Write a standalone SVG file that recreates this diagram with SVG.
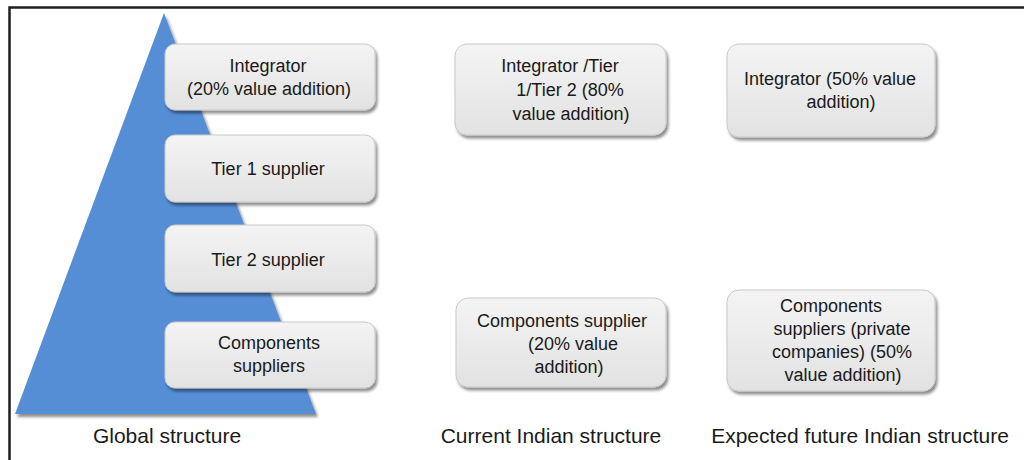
<svg xmlns="http://www.w3.org/2000/svg" width="1024" height="460" viewBox="0 0 1024 460">
<defs>
  <linearGradient id="boxFill" x1="0" y1="0" x2="0" y2="1">
    <stop offset="0" stop-color="#f4f4f4"/>
    <stop offset="1" stop-color="#e2e2e2"/>
  </linearGradient>
  <filter id="shadow" x="-10%" y="-10%" width="125%" height="130%">
    <feGaussianBlur in="SourceAlpha" stdDeviation="1.6"/>
    <feOffset dx="2" dy="3" result="b"/>
    <feComponentTransfer><feFuncA type="linear" slope="0.45"/></feComponentTransfer>
    <feMerge><feMergeNode/><feMergeNode in="SourceGraphic"/></feMerge>
  </filter>
</defs>
<style>
  .box { fill: url(#boxFill); stroke: #c9c9c9; stroke-width: 1; filter: url(#shadow); }
  .t { font-family: "Liberation Sans", Arial, sans-serif; font-size: 18px; fill: #1a1a1a; text-anchor: middle; }
  .cap { font-family: "Liberation Sans", Arial, sans-serif; font-size: 21px; fill: #1a1a1a; text-anchor: middle; }
</style>
<rect width="1024" height="460" fill="#ffffff"/>
<rect x="9.5" y="7.5" width="1030" height="470" fill="none" stroke="#1e1e1e" stroke-width="2.5"/>

<g id="pyramid">
  <polygon points="164,13 15,414 316,414" fill="#558ed5" filter="url(#shadow)"/>
</g>

<g id="connectors"></g>

<g id="global-integrator">
  <rect class="box" x="165" y="44" width="210" height="66" rx="10"/>
  <text class="t" x="268" y="72">Integrator</text>
  <text class="t" x="269" y="95">(20% value addition)</text>
</g>
<g id="global-tier1">
  <rect class="box" x="165" y="135" width="210" height="67" rx="10"/>
  <text class="t" x="268" y="175">Tier 1 supplier</text>
</g>
<g id="global-tier2">
  <rect class="box" x="165" y="225" width="210" height="67" rx="10"/>
  <text class="t" x="268" y="266">Tier 2 supplier</text>
</g>
<g id="global-components">
  <rect class="box" x="165" y="322" width="210" height="66" rx="10"/>
  <text class="t" x="269" y="349">Components</text>
  <text class="t" x="269" y="372">suppliers</text>
</g>

<g id="current-integrator">
  <rect class="box" x="455" y="44" width="211" height="91" rx="12"/>
  <text class="t" x="560" y="72">Integrator /Tier</text>
  <text class="t" x="570" y="96">1/Tier 2 (80%</text>
  <text class="t" x="571" y="120">value addition)</text>
</g>
<g id="current-components">
  <rect class="box" x="456" y="298" width="210" height="89" rx="12"/>
  <text class="t" x="562" y="327">Components supplier</text>
  <text class="t" x="573" y="350">(20% value</text>
  <text class="t" x="569" y="373">addition)</text>
</g>

<g id="future-integrator">
  <rect class="box" x="727" y="44" width="208" height="93" rx="12"/>
  <text class="t" x="830" y="85">Integrator (50% value</text>
  <text class="t" x="841" y="108">addition)</text>
</g>
<g id="future-components">
  <rect class="box" x="727" y="290" width="208" height="101" rx="12"/>
  <text class="t" x="831" y="312">Components</text>
  <text class="t" x="842" y="335">suppliers (private</text>
  <text class="t" x="842" y="358">companies) (50%</text>
  <text class="t" x="843" y="381">value addition)</text>
</g>

<g id="captions">
  <text class="cap" x="167" y="443">Global structure</text>
  <text class="cap" x="551" y="443">Current Indian structure</text>
  <text class="cap" x="860" y="443">Expected future Indian structure</text>
</g>
</svg>
